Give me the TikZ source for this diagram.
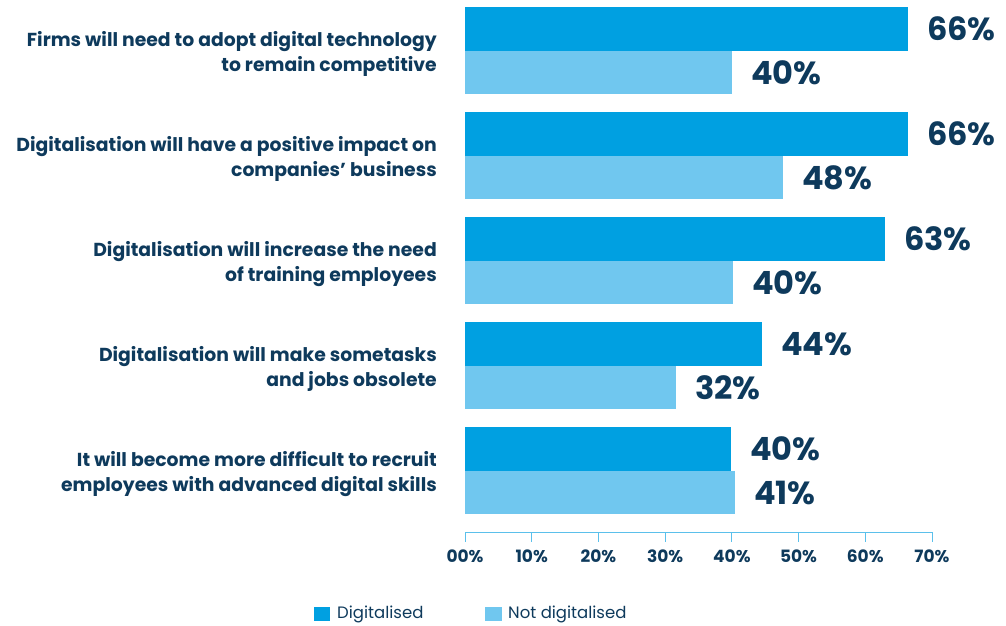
\documentclass[tikz,border=0pt]{standalone}
\usepackage{fontspec}
\setmainfont{Poppins}
\usetikzlibrary{positioning}
\definecolor{digblue}{RGB}{0,160,225}
\definecolor{nodigblue}{RGB}{112,199,239}
\definecolor{navy}{RGB}{14,58,92}
\definecolor{axisblue}{RGB}{91,192,235}
\tikzset{
 catlabel/.style={anchor=east,align=right,text=navy,inner sep=0pt,font=\bfseries\fontsize{18.8}{25}\selectfont},
 vallabel/.style={anchor=west,text=navy,inner sep=0pt,font=\bfseries\fontsize{32}{32}\selectfont},
 ticklabel/.style={text=navy,inner sep=0pt,font=\bfseries\fontsize{17}{17}\selectfont},
 legtext/.style={anchor=west,text=navy,inner sep=0pt,font=\fontsize{16.5}{16.5}\selectfont},
}
\begin{document}
\begin{tikzpicture}[x=1pt,y=-1pt]
 \useasboundingbox (0,0) rectangle (1006,625);
 \fill[digblue](465,7) rectangle (908,51);
 \fill[nodigblue](465,51) rectangle (732,94);
 \fill[digblue](465,112) rectangle (908,156);
 \fill[nodigblue](465,156) rectangle (783,199);
 \fill[digblue](465,217) rectangle (885,261);
 \fill[nodigblue](465,261) rectangle (733,304);
 \fill[digblue](465,322) rectangle (762,366);
 \fill[nodigblue](465,366) rectangle (676,409);
 \fill[digblue](465,427) rectangle (731,471);
 \fill[nodigblue](465,471) rectangle (735,514);
 \coordinate (d1) at (908,29);
 \coordinate (n1) at (732,72.5);
 \coordinate (d2) at (908,134);
 \coordinate (n2) at (783,177.5);
 \coordinate (d3) at (885,239);
 \coordinate (n3) at (733,282.5);
 \coordinate (d4) at (762,344);
 \coordinate (n4) at (676,387.5);
 \coordinate (d5) at (731,449);
 \coordinate (n5) at (735,492.5);
 \node[vallabel,right=19pt of d1] (vd1) {66\%};
 \node[vallabel,right=19pt of n1] (vn1) {40\%};
 \node[vallabel,right=19pt of d2] (vd2) {66\%};
 \node[vallabel,right=19pt of n2] (vn2) {48\%};
 \node[vallabel,right=19pt of d3] (vd3) {63\%};
 \node[vallabel,right=19pt of n3] (vn3) {40\%};
 \node[vallabel,right=19pt of d4] (vd4) {44\%};
 \node[vallabel,right=19pt of n4] (vn4) {32\%};
 \node[vallabel,right=19pt of d5] (vd5) {40\%};
 \node[vallabel,right=19pt of n5] (vn5) {41\%};
 \node[catlabel] (c1) at (437,54) {Firms will need to adopt digital technology\\to remain competitive};
 \node[catlabel] (c2) at (437,159) {Digitalisation will have a positive impact on\\companies’ business};
 \node[catlabel] (c3) at (437,264) {Digitalisation will increase the need\\of training employees};
 \node[catlabel] (c4) at (437,369) {Digitalisation will make sometasks\\and jobs obsolete};
 \node[catlabel] (c5) at (437,474) {It will become more difficult to recruit\\employees with advanced digital skills};
 \draw[axisblue,thick](465,532)--(932,532);
 \foreach \t in {0,...,7}
 {
  \draw[axisblue,thick](465+66.71*\t,532)--++(0,10);
  \node[ticklabel] (t\t) at (465+66.71*\t,556) {\t0\%};
 }
 \fill[digblue](314,607) rectangle (330,621);
 \node[legtext] (l1) at (337,614) {Digitalised};
 \fill[nodigblue](485,607) rectangle (502,621);
 \node[legtext] (l2) at (508,614) {Not digitalised};
\end{tikzpicture}
\end{document}
